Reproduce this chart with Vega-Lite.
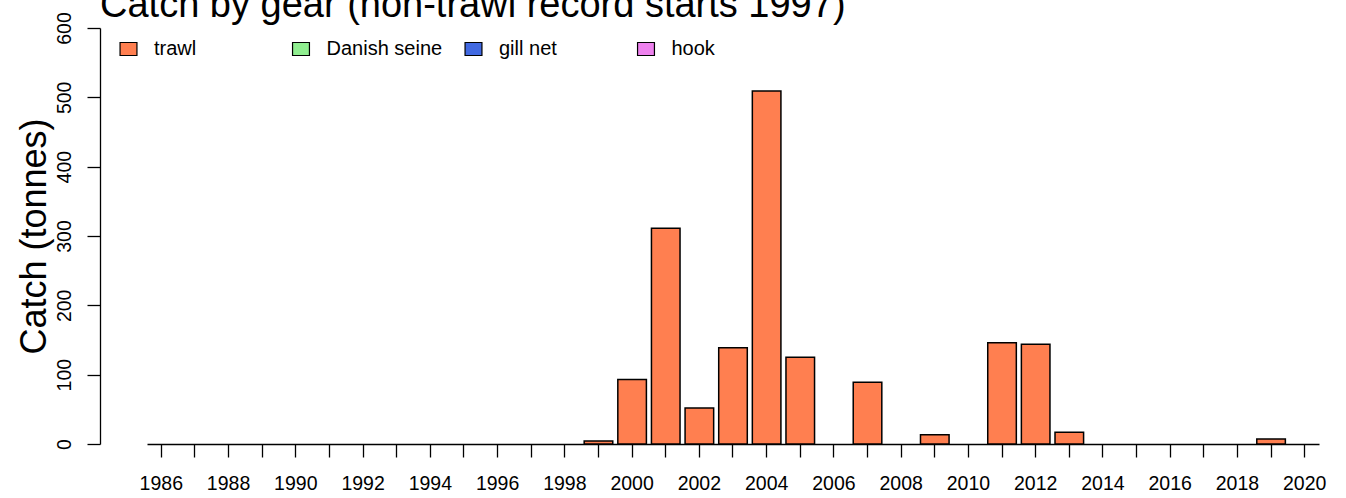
{
  "$schema": "https://vega.github.io/schema/vega-lite/v6.json",
  "width": 1172,
  "height": 416,
  "autosize": {"type": "none"},
  "padding": {"left": 147, "top": 28, "right": 27, "bottom": 54},
  "background": "white",
  "title": {
    "text": "Catch by gear (non-trawl record starts 1997)",
    "anchor": "start",
    "frame": "group",
    "font": "Liberation Sans",
    "fontSize": 38,
    "fontWeight": "normal",
    "color": "black",
    "dx": -47,
    "baseline": "alphabetic",
    "offset": 0,
    "dy": 43
  },
  "config": {
    "view": {"stroke": null},
    "axis": {
      "domainColor": "black",
      "domainWidth": 1.3,
      "tickColor": "black",
      "tickWidth": 1.3,
      "tickSize": 13,
      "labelFont": "Liberation Sans",
      "labelFontSize": 19.5,
      "labelColor": "black",
      "grid": false,
      "labelFlush": false,
      "labelOverlap": false
    }
  },
  "data": {
    "values": [
      {"year": 1999, "gear": "trawl", "catch": 4.3},
      {"year": 2000, "gear": "trawl", "catch": 93},
      {"year": 2001, "gear": "trawl", "catch": 311},
      {"year": 2002, "gear": "trawl", "catch": 52},
      {"year": 2003, "gear": "trawl", "catch": 139},
      {"year": 2004, "gear": "trawl", "catch": 509},
      {"year": 2005, "gear": "trawl", "catch": 125},
      {"year": 2007, "gear": "trawl", "catch": 89},
      {"year": 2009, "gear": "trawl", "catch": 13.4},
      {"year": 2011, "gear": "trawl", "catch": 146},
      {"year": 2012, "gear": "trawl", "catch": 144},
      {"year": 2013, "gear": "trawl", "catch": 16.8},
      {"year": 2019, "gear": "trawl", "catch": 7.2}
    ]
  },
  "mark": {"type": "bar", "stroke": "black", "strokeWidth": 1.5},
  "encoding": {
    "x": {
      "field": "year",
      "type": "ordinal",
      "scale": {
        "domain": [1986,1987,1988,1989,1990,1991,1992,1993,1994,1995,1996,1997,1998,1999,2000,2001,2002,2003,2004,2005,2006,2007,2008,2009,2010,2011,2012,2013,2014,2015,2016,2017,2018,2019,2020],
        "paddingInner": 0.15,
        "paddingOuter": 0
      },
      "axis": {
        "title": null,
        "labelAngle": 0,
        "labelPadding": 17,
        "labelExpr": "datum.value % 2 == 0 ? datum.label : ''"
      }
    },
    "y": {
      "field": "catch",
      "type": "quantitative",
      "scale": {"domain": [0, 600], "nice": false},
      "axis": {
        "offset": 47,
        "values": [0, 100, 200, 300, 400, 500, 600],
        "labelAngle": -90,
        "labelAlign": "center",
        "labelBaseline": "alphabetic",
        "labelPadding": 17,
        "title": "Catch (tonnes)",
        "titleFont": "Liberation Sans",
        "titleFontSize": 36,
        "titleFontWeight": "normal",
        "titleColor": "black",
        "titleAngle": -90,
        "titleAlign": "center",
        "titleBaseline": "alphabetic",
        "titleX": -55,
        "titleY": 208
      }
    },
    "fill": {
      "field": "gear",
      "type": "nominal",
      "scale": {
        "domain": ["trawl", "Danish seine", "gill net", "hook"],
        "range": ["#FF7F50", "#90EE90", "#4169E1", "#EE82EE"]
      },
      "legend": {
        "orient": "none",
        "legendX": -28.5,
        "legendY": 11,
        "direction": "horizontal",
        "columns": 4,
        "gridAlign": "all",
        "title": null,
        "padding": 0,
        "labelFont": "Liberation Sans",
        "labelFontSize": 20,
        "labelColor": "black",
        "symbolType": "M-1.3,-1H1.3V1H-1.3Z",
        "symbolSize": 169,
        "symbolStrokeColor": "black",
        "symbolStrokeWidth": 1.2,
        "symbolOpacity": 1,
        "labelOffset": 15.5,
        "columnPadding": 19.5
      }
    }
  }
}
